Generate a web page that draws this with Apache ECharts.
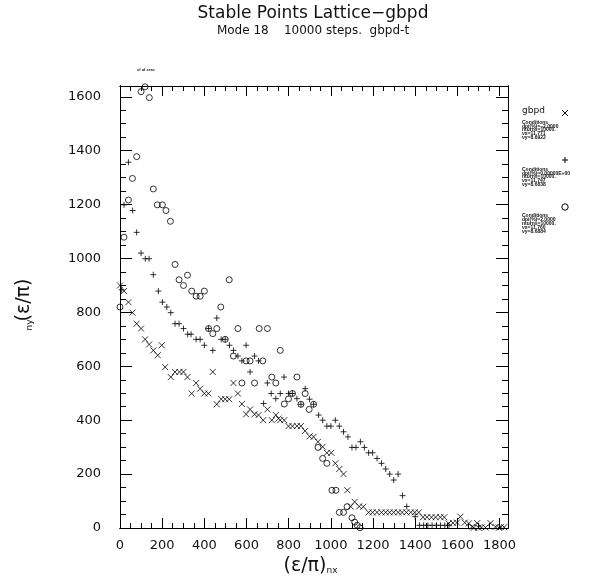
<!DOCTYPE html>
<html><head><meta charset="utf-8">
<script src="https://cdn.jsdelivr.net/npm/echarts@6/dist/echarts.min.js"></script>
<style>html,body{margin:0;padding:0;background:#fff}#c,#o{width:591px;height:583px;position:absolute;left:0;top:0}#o{pointer-events:none}</style>
</head><body><div id="c"></div><div id="o"></div>
<script>
// ---- tick labels ----
const xTickLabels = [0, 200, 400, 600, 800, 1000, 1200, 1400, 1600, 1800];
const yTickLabels = [0, 200, 400, 600, 800, 1000, 1200, 1400, 1600];

// ---- data: [ (eps/pi)nx , (eps/pi)ny ] ----
const dpiMinus2 = [[0,900],[19,879],[40,838],[59,799],[79,758],[100,740],[119,700],[138,681],[158,659],[179,641],[198,678],[214,597],[241,560],[261,579],[282,579],[301,579],[320,560],[340,499],[361,538],[380,517],[400,499],[419,499],[440,579],[459,459],[480,478],[499,478],[518,478],[538,538],[559,499],[578,460],[598,422],[617,440],[638,422],[657,419],[679,400],[699,440],[720,400],[739,419],[752,406],[760,400],[779,400],[799,378],[818,378],[839,378],[858,378],[878,360],[899,340],[918,338],[939,320],[961,301],[981,279],[1002,279],[1021,240],[1040,219],[1060,200],[1078,140],[1094,80],[1113,97],[1134,80],[1154,79],[1179,58],[1198,58],[1219,58],[1240,58],[1260,58],[1279,58],[1298,58],[1319,58],[1338,58],[1358,58],[1379,58],[1398,58],[1417,58],[1437,40],[1456,40],[1477,40],[1497,40],[1519,40],[1538,40],[1558,17],[1579,19],[1598,20],[1614,42],[1635,20],[1654,17],[1670,5],[1678,1],[1694,18],[1700,1],[1714,3],[1733,2],[1757,18],[1781,4],[1797,1],[1806,3],[1822,3]];
const dpiZero = [[8,884],[19,1199],[40,1357],[60,1178],[79,1097],[100,1020],[120,999],[138,999],[158,940],[182,879],[201,838],[222,820],[241,799],[261,758],[280,758],[301,740],[321,719],[337,719],[361,700],[380,700],[400,678],[420,740],[440,659],[459,779],[480,700],[499,700],[519,678],[538,659],[559,638],[578,620],[598,678],[617,579],[638,638],[657,620],[681,462],[699,538],[717,499],[739,480],[760,499],[778,560],[799,499],[818,499],[839,480],[858,459],[878,517],[899,478],[918,459],[942,419],[961,400],[981,378],[1000,378],[1021,400],[1040,378],[1060,357],[1081,338],[1100,299],[1119,299],[1140,320],[1159,299],[1179,279],[1198,279],[1219,258],[1240,240],[1260,219],[1279,200],[1298,178],[1319,200],[1340,120],[1360,80],[1400,42],[1420,10],[1440,10],[1460,10],[1480,10],[1500,10],[1520,10],[1540,10],[1560,10]];
const dpiPlus2 = [[0,820],[19,1079],[40,1217],[59,1297],[79,1378],[100,1619],[119,1637],[139,1597],[158,1258],[177,1199],[201,1199],[218,1178],[239,1138],[261,978],[280,921],[301,900],[320,938],[340,879],[361,860],[380,860],[400,879],[420,740],[440,721],[459,740],[478,820],[499,700],[518,921],[538,638],[559,740],[578,538],[598,620],[617,620],[638,538],[660,740],[677,620],[699,740],[720,560],[739,538],[760,659],[779,460],[799,479],[818,499],[839,560],[858,459],[878,499],[897,440],[918,459],[939,299],[961,258],[981,240],[1005,140],[1024,140],[1040,58],[1060,58],[1077,79],[1100,38],[1113,22],[1125,10],[1138,1]];

// ---- legend texts ----
const legendTitle = 'gbpd';
const condMinus2 = ['Conditions', 'dpi(%)=\u22122.0000', 'nturns=10000.', '\u03bdx=11.771', '\u03bdy=8.6922'];
const condZero = ['Conditions', 'dpi(%)=0.00000E+00', 'nturns=10000.', '\u03bdx=11.747', '\u03bdy=8.6838'];
const condPlus2 = ['Conditions', 'dpi(%)=2.0000', 'nturns=10000.', '\u03bdx=11.760', '\u03bdy=8.6884'];

const XMAX = 1840, YMAX = 1640;

// mode: 0 = styled labels, 1 = formatter only, 2 = default labels
function xAx(pos, major, labels, mode) {
  const o = {
    type: 'value', position: pos, min: 0, max: XMAX, interval: major ? 200 : 50,
    axisLine: {show: true, onZero: false, lineStyle: {color: '#000', width: 1}},
    axisTick: {show: true, inside: true, length: major ? 10 : 5, lineStyle: {color: '#000', width: 1}},
    axisLabel: {show: labels},
    splitLine: {show: false}
  };
  if (labels && mode < 2) o.axisLabel.formatter = function (v) { return xTickLabels.indexOf(v) >= 0 ? String(v) : ''; };
  if (labels && mode < 1) { o.axisLabel.margin = 11; o.axisLabel.color = '#111'; o.axisLabel.fontFamily = 'DejaVu Sans'; o.axisLabel.fontSize = 13; }
  return o;
}
function yAx(pos, major, labels, mode) {
  const o = {
    type: 'value', position: pos, min: 0, max: YMAX, interval: major ? 200 : 50,
    axisLine: {show: true, onZero: false, lineStyle: {color: '#000', width: 1}},
    axisTick: {show: true, inside: true, length: major ? 12 : 6, lineStyle: {color: '#000', width: 1}},
    axisLabel: {show: labels},
    splitLine: {show: false}
  };
  if (labels && mode < 2) o.axisLabel.formatter = function (v) { return yTickLabels.indexOf(v) >= 0 ? String(v) : ''; };
  if (labels && mode < 1) { o.axisLabel.margin = 19; o.axisLabel.color = '#111'; o.axisLabel.fontFamily = 'DejaVu Sans'; o.axisLabel.fontSize = 13; }
  return o;
}

const crossPath = 'path://M0,0L10,10M10,0L0,10';
const plusPath = 'path://M5,0L5,10M0,5L10,5';
function sc(data, symbol) {
  return {type: 'scatter', data: data, symbol: symbol, symbolSize: 6,
    itemStyle: {color: 'rgba(0,0,0,0)', borderColor: '#000', borderWidth: 1}, emphasis: {disabled: true}};
}

function mainOption(mode) {
  return {
    animation: false,
    grid: {left: 120, right: 83, top: 86, bottom: 55},
    // tick-only axes first, labelled axes last
    xAxis: [xAx('bottom', true, false, mode), xAx('bottom', false, false, mode), xAx('top', true, false, mode), xAx('top', false, false, mode), xAx('bottom', true, true, mode)],
    yAxis: [yAx('left', true, false, mode), yAx('left', false, false, mode), yAx('right', true, false, mode), yAx('right', false, false, mode), yAx('left', true, true, mode)],
    series: [sc(dpiMinus2, crossPath), sc(dpiZero, plusPath), sc(dpiPlus2, 'circle')]
  };
}

function darkAt(x0, y0, x1, y1) {
  const cv = document.querySelector('#c canvas');
  if (!cv) return true;
  try {
    const d = cv.getContext('2d').getImageData(x0, y0, x1 - x0 + 1, y1 - y0 + 1).data;
    for (let i = 0; i < d.length; i += 4) { if (d[i + 3] > 100 && d[i] < 140) return true; }
    return false;
  } catch (e) { return true; }
}

let chart = null;
for (let mode = 0; mode < 3; mode++) {
  if (chart) chart.dispose();
  chart = echarts.init(document.getElementById('c'));
  chart.setOption(mainOption(mode));
  try { chart.getZr().refreshImmediately(); } catch (e) {}
  // check the right frame line and a left major tick
  if (darkAt(506, 290, 510, 310) && darkAt(124, 94, 130, 99)) break;
}

// overlay: titles, axis names, legend block
function seg(x1, y1, x2, y2) {
  return {type: 'line', shape: {x1: x1, y1: y1, x2: x2, y2: y2}, style: {stroke: '#000', lineWidth: 1}};
}
function txt(x, y, t, font, extra) {
  const s = {text: t, font: font, fill: '#111', textVerticalAlign: 'middle'};
  if (extra) Object.assign(s, extra);
  return {type: 'text', x: x, y: y, style: s};
}
const small = 'bold 5px "Liberation Sans"';
function block(y, lines) {
  return lines.map((t, i) => txt(522, y + i * 3.9, t, small));
}
const yName = {type: 'text', x: 24, y: 300, rotation: Math.PI / 2,
  style: {text: '(\u03b5/\u03c0)', font: '19px "DejaVu Sans"', fill: '#111', textAlign: 'center', textVerticalAlign: 'middle'}};
const yNameSub = {type: 'text', x: 30, y: 325, rotation: Math.PI / 2,
  style: {text: 'ny', font: '9px "DejaVu Sans"', fill: '#111', textAlign: 'center', textVerticalAlign: 'middle'}};

const overlay = echarts.init(document.getElementById('o'));
overlay.setOption({
  animation: false,
  backgroundColor: 'rgba(0,0,0,0)',
  graphic: [
    txt(313, 14, 'Stable Points Lattice\u2212gbpd', '17px "DejaVu Sans"', {textAlign: 'center'}),
    txt(313, 31, 'Mode 18    10000 steps.  gbpd-t', '12px "DejaVu Sans"', {textAlign: 'center'}),
    txt(137, 70, 'sf of zero', 'bold 4px "Liberation Sans"'),
    txt(305, 566, '(\u03b5/\u03c0)', '19px "DejaVu Sans"', {textAlign: 'center'}),
    txt(332, 571, 'nx', '9px "DejaVu Sans"', {textAlign: 'center'}),
    yName, yNameSub,
    txt(522, 111, legendTitle, '9px "DejaVu Sans"'),
    seg(562, 110, 568, 116), seg(568, 110, 562, 116),
    seg(565, 157, 565, 163), seg(562, 160, 568, 160),
    {type: 'circle', shape: {cx: 565, cy: 207, r: 3.2}, style: {stroke: '#000', lineWidth: 1, fill: 'rgba(0,0,0,0)'}}
  ].concat(block(122.3, condMinus2), block(169.3, condZero), block(216, condPlus2))
});
</script></body></html>
